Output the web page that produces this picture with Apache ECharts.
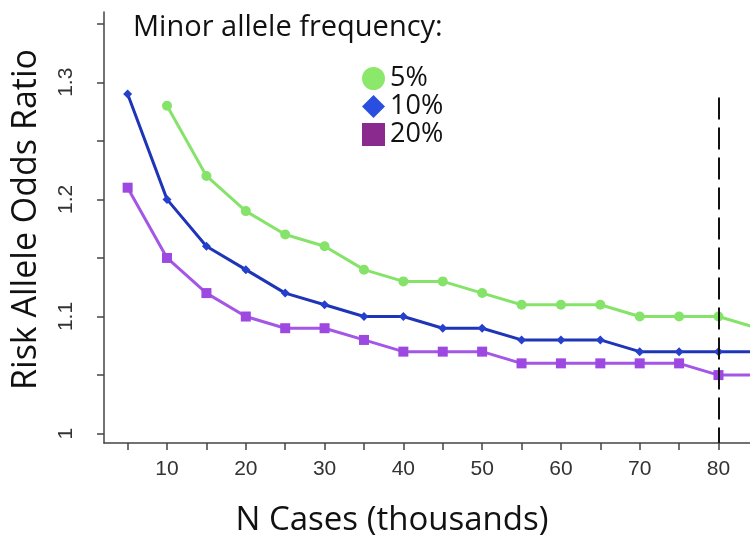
<!DOCTYPE html>
<html>
<head>
<meta charset="utf-8">
<script src="https://cdn.jsdelivr.net/npm/echarts@6/dist/echarts.min.js"></script>
<style>html,body{margin:0;padding:0;background:#fff}#c{width:750px;height:544px}</style>
</head>
<body>
<div id="c"></div>
<script>
// Data
const maf5x = [10,15,20,25,30,35,40,45,50,55,60,65,70,75,80,85];
const maf5y = [1.28,1.22,1.19,1.17,1.16,1.14,1.13,1.13,1.12,1.11,1.11,1.11,1.10,1.10,1.10,1.09];
const maf10x = [5,10,15,20,25,30,35,40,45,50,55,60,65,70,75,80,85];
const maf10y = [1.29,1.20,1.16,1.14,1.12,1.11,1.10,1.10,1.09,1.09,1.08,1.08,1.08,1.07,1.07,1.07,1.07];
const maf20x = [5,10,15,20,25,30,35,40,45,50,55,60,65,70,75,80,85];
const maf20y = [1.21,1.15,1.12,1.10,1.09,1.09,1.08,1.07,1.07,1.07,1.06,1.06,1.06,1.06,1.06,1.05,1.05];
const seriesNames = ['5%','10%','20%'];
const xTickValues = [5,10,15,20,25,30,35,40,45,50,55,60,65,70,75,80];
const xLabelValues = [10,20,30,40,50,60,70,80];
const yTickValues = [1,1.05,1.1,1.15,1.2,1.25,1.3,1.35];
const yLabelValues = [1,1.1,1.2,1.3];
const cutoffX = 80;
const cutoffTop = 1.287;

const pair = (xs, ys) => xs.map((x,i)=>[x, ys[i]]);

const chart = echarts.init(document.getElementById('c'), null, {renderer:'canvas'});
const titleFont = '"Open Sans", Lato, sans-serif';
const tickFont = '"Liberation Sans", Arial, sans-serif';
const axisCol = '#444';
chart.setOption({
  animation:false,
  backgroundColor:'#fff',
  grid:{left:104, right:0, top:12, bottom:101, containLabel:false, outerBoundsMode:'none'},
  title:{
    text:'Minor allele frequency:', left:133, top:13, padding:0,
    textStyle:{fontFamily:titleFont, fontSize:29, fontWeight:'normal', color:'#111'}
  },
  legend:{
    orient:'vertical', left:357, top:60, itemGap:1,
    itemWidth:23, itemHeight:23,
    textStyle:{fontFamily:titleFont, fontSize:27, lineHeight:27, color:'#111'},
    data:[
      {name:'5%', icon:'circle', itemStyle:{color:'#8ce86a'}},
      {name:'10%', icon:'diamond', itemStyle:{color:'#2a4fe0'}},
      {name:'20%', icon:'rect', itemStyle:{color:'#8a2a8e'}}
    ]
  },
  xAxis:{
    type:'value', min:2, max:84,
    name:'N Cases (thousands)', nameLocation:'middle', nameGap:61,
    nameTextStyle:{fontFamily:titleFont, fontSize:33, color:'#111', padding:[0,70,0,0]},
    axisLine:{show:true, onZero:false, lineStyle:{color:axisCol, width:1.5}},
    axisTick:{show:true, length:7, customValues:xTickValues, lineStyle:{color:axisCol, width:1.5}},
    axisLabel:{customValues:xLabelValues, margin:16, fontFamily:tickFont, fontSize:21, color:'#333'},
    splitLine:{show:false}
  },
  yAxis:{
    type:'value', min:0.992, max:1.36,
    name:'Risk Allele Odds Ratio', nameLocation:'middle', nameGap:61,
    nameTextStyle:{fontFamily:titleFont, fontSize:34, color:'#111', padding:[0,0,0,16]},
    axisLine:{show:true, onZero:false, lineStyle:{color:axisCol, width:1.5}},
    axisTick:{show:true, length:7, customValues:yTickValues, lineStyle:{color:axisCol, width:1.5}},
    axisLabel:{customValues:yLabelValues, rotate:90, margin:27, fontFamily:tickFont, fontSize:21, color:'#333',
      formatter:v=>String(Math.round(v*100)/100)},
    splitLine:{show:false}
  },
  series:[
    {name:seriesNames[0], type:'line', data:pair(maf5x, maf5y), symbol:'circle', symbolSize:10,
      lineStyle:{color:'#86e36a', width:3}, itemStyle:{color:'#86e36a'}, z:3},
    {name:seriesNames[1], type:'line', data:pair(maf10x, maf10y), symbol:'diamond', symbolSize:9,
      lineStyle:{color:'#1f35b8', width:3}, itemStyle:{color:'#2440cc'}, z:4,
      markLine:{silent:true, symbol:['none','none'], label:{show:false},
        lineStyle:{color:'#111', width:2, type:[22,8]},
        data:[[{coord:[cutoffX, cutoffTop]},{coord:[cutoffX, 0.992]}]]}},
    {name:seriesNames[2], type:'line', data:pair(maf20x, maf20y), symbol:'rect', symbolSize:10,
      lineStyle:{color:'#a456e6', width:3}, itemStyle:{color:'#9d48e0'}, z:3}
  ]
});
</script>
</body>
</html>
